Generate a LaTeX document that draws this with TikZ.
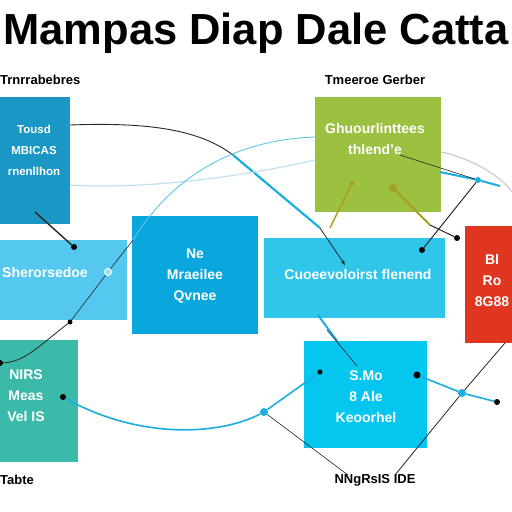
\documentclass[tikz,border=0pt]{standalone}
\usepackage{fontspec}
\setmainfont{Liberation Sans}
\usetikzlibrary{arrows.meta}
\definecolor{cA}{HTML}{1B97C5}
\definecolor{cG}{HTML}{9CC03F}
\definecolor{cL}{HTML}{54C8EE}
\definecolor{cC}{HTML}{0AA6DE}
\definecolor{cR}{HTML}{30C6EA}
\definecolor{cRed}{HTML}{E0361F}
\definecolor{cT}{HTML}{3BBAA9}
\definecolor{cB}{HTML}{05C6EF}
\definecolor{lineblue}{HTML}{1AAEE0}
\definecolor{paleblue}{HTML}{BFE2F0}
\definecolor{olive}{HTML}{A8A020}
\tikzset{
  box/.style={draw=none, anchor=north west, inner sep=0pt},
  wtext/.style={text=white, font=\fontsize{14}{21}\selectfont\bfseries, align=center, inner sep=0pt},
  lbl/.style={text=black, font=\fontsize{13}{15}\selectfont\bfseries, inner sep=0pt},
  thinblk/.style={draw=black!85, line width=0.8pt},
  thinblue/.style={draw=lineblue, line width=1.6pt},
  paleline/.style={draw=paleblue, line width=1.2pt},
  dot/.style={circle, fill=black, inner sep=0pt, minimum size=6pt},
  bdot/.style={circle, fill=lineblue, inner sep=0pt, minimum size=8pt},
}
\begin{document}
\begin{tikzpicture}[x=1pt,y=-1pt]
\useasboundingbox (0,0) rectangle (512,512);
\fill[white] (0,0) rectangle (512,512);
% title
\node[font=\fontsize{43.5}{46}\selectfont\bfseries, inner sep=0pt] (title) at (256,33) {Mampas Diap Dale Catta};
% boxes
\node[box, fill=cA, minimum width=70pt, minimum height=127pt] (b1) at (0,97) {};
\node[box, fill=cG, minimum width=126pt, minimum height=115pt] (b2) at (315,97) {};
\node[box, fill=cL, minimum width=127pt, minimum height=80pt] (b3) at (0,240) {};
\node[box, fill=cC, minimum width=126pt, minimum height=118pt] (b4) at (132,216) {};
\node[box, fill=cR, minimum width=181pt, minimum height=80pt] (b5) at (264,238) {};
\node[box, fill=cRed, minimum width=47pt, minimum height=117pt] (b6) at (465,226) {};
\node[box, fill=cT, minimum width=78pt, minimum height=122pt] (b7) at (0,340) {};
\node[box, fill=cB, minimum width=123pt, minimum height=107pt] (b8) at (304,341) {};
% labels
\node[lbl, anchor=west] (l1) at (0,80) {Trnrrabebres};
\node[lbl] (l2) at (375,80) {Tmeeroe Gerber};
\node[lbl, anchor=west] (l7) at (0,480) {Tabte};
\node[lbl] (l8) at (375,480) {NNgRsIS IDE};
% box texts
\node[wtext, font=\fontsize{11.5}{21}\selectfont\bfseries] (t1) at (34,150) {Tousd\\MBICAS\\rnenllhon};
\node[wtext] (t2) at (375,139) {Ghuourlinttees\\thlend'e};
\node[wtext, anchor=west] (t3) at (2,272) {Sherorsedoe};
\node[wtext] (t4) at (195,276) {Ne\\Mraeilee\\Qvnee};
\node[wtext] (t5) at (358,274) {Cuoeevoloirst flenend};
\node[wtext] (t6) at (492,280) {Bl\\Ro\\8G88};
\node[wtext] (t7) at (26,396) {NIRS\\Meas\\Vel IS};
\node[wtext] (t8) at (366,397) {S.Mo\\8 Ale\\Keoorhel};
% coordinates
\coordinate (pA) at (70,125);
\coordinate (pX) at (233,155);
\coordinate (pB) at (320,228);
\coordinate (pC) at (70,185);
\coordinate (pCe) at (315,160);
\coordinate (pD) at (133,240);
\coordinate (pDe) at (315,137);
\coordinate (pG1) at (441,152);
\coordinate (pG2) at (512,192);
\coordinate (pH1) at (440,172);
\node[bdot, minimum size=6pt] (n1) at (478,180) {};
\coordinate (pH2) at (500,186);
\coordinate (pE0) at (400,155);
\coordinate (pE1) at (35,212);
\node[dot] (n2) at (74,247) {};
\node[dot, minimum size=5pt] (n3) at (70,322) {};
\node[dot] (n4) at (0,363) {};
\node[circle, draw=white, fill=cL!60!white, line width=1pt, inner sep=0pt, minimum size=7pt] (n5) at (108,272) {};
\node[dot] (n6) at (63,397) {};
\node[bdot] (n7) at (264,412) {};
\node[dot, minimum size=5pt] (n8) at (320,372) {};
\coordinate (pL1) at (348,475);
\coordinate (pL2) at (395,475);
\coordinate (pR) at (505,343);
\node[bdot] (n9) at (462,393) {};
\node[dot, minimum size=7pt] (n10) at (417,375) {};
\node[dot] (n11) at (497,402) {};
\node[circle, fill=olive, inner sep=0pt, minimum size=5pt] (n12) at (352,183) {};
\node[circle, fill=olive, inner sep=0pt, minimum size=8pt] (n13) at (393,188) {};
\coordinate (pO1) at (330,228);
\coordinate (pO2) at (430,225);
\node[dot] (n14) at (457,238) {};
\node[dot] (n15) at (422,250) {};
\coordinate (pK1) at (345,265);
\coordinate (pK2) at (318,315);
\coordinate (pK3) at (340,345);
\coordinate (pK4) at (327,330);
\coordinate (pK5) at (357,366);
% connectors
\draw[thinblk, line width=0.9pt] (pA) .. controls (150,122) and (200,130) .. (pX);
\draw[thinblue, line width=2.2pt] (pX) -- (pB);
\draw[paleline] (pC) .. controls (150,190) and (250,175) .. (pCe);
\draw[draw=lineblue!70, line width=0.9pt] (pD) .. controls (170,180) and (230,140) .. (pDe);
\draw[draw=gray!40, line width=1.2pt] (pG1) .. controls (470,158) and (500,175) .. (pG2);
\draw[thinblue, line width=2pt] (pH1) -- (n1) -- (pH2);
\draw[thinblk, line width=0.6pt] (pE0) -- (n1);
\draw[thinblk, line width=1.4pt] (pE1) -- (n2);
\draw[thinblk, line width=0.6pt] (pD) -- (n5) -- (n3);
\draw[thinblk] (n3) .. controls (40,345) and (25,362) .. (n4);
\draw[thinblue] (n6) .. controls (140,440) and (220,435) .. (n7);
\draw[thinblue] (n7) -- (n8);
\draw[thinblk, line width=0.6pt] (n7) -- (pL1);
\draw[thinblk] (pR) -- (n9) -- (pL2);
\draw[thinblue] (n10) -- (n9) -- (n11);
\draw[draw=olive, line width=1.5pt] (n12) -- (pO1);
\draw[draw=olive, line width=1.8pt] (n13) -- (pO2);
\draw[thinblk, line width=1pt] (pO2) -- (n14);
\draw[thinblk, line width=1pt] (n1) -- (n15);
\draw[thinblk, -{Stealth[length=5pt]}] (pB) -- (pK1);
\draw[thinblue, line width=2pt] (pK2) -- (pK3);
\draw[thinblk, line width=0.6pt] (pK4) -- (pK5);
\end{tikzpicture}
\end{document}
